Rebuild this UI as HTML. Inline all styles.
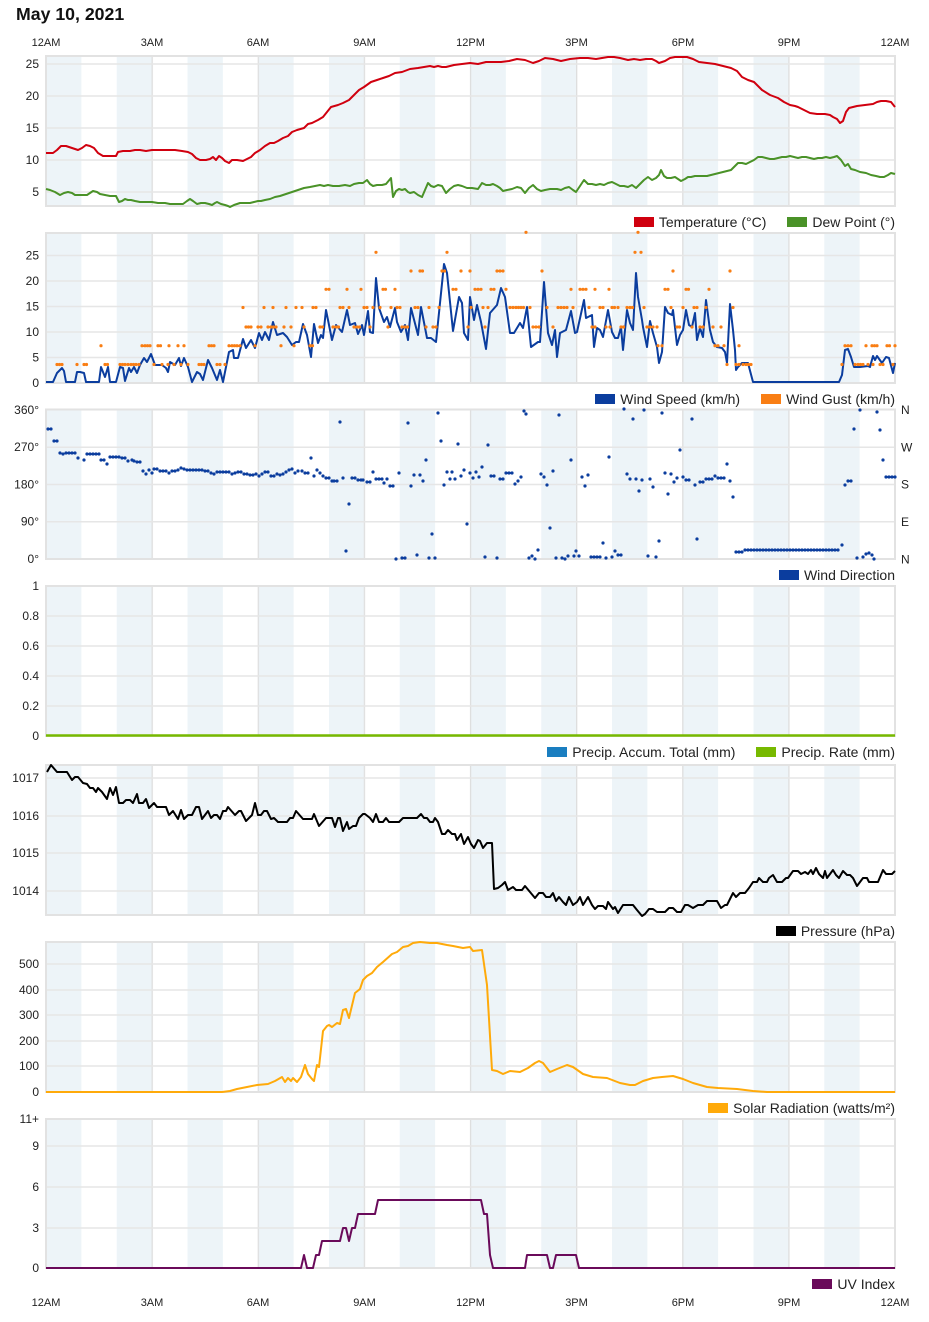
<!DOCTYPE html>
<html><head><meta charset="utf-8">
<style>
html,body{margin:0;padding:0;background:#fff;}
body{width:929px;height:1322px;position:relative;overflow:hidden;font-family:"Liberation Sans",Arial,sans-serif;}
svg{position:absolute;left:0;top:0;}
.lg{position:absolute;right:34px;height:16px;line-height:16px;display:flex;align-items:center;font-size:14px;color:#222;white-space:nowrap;}
.lg .it{display:flex;align-items:center;margin-left:21px;}
.lg .sw{width:20px;height:10px;margin-right:5px;display:inline-block;}
</style></head><body>
<svg width="929" height="1322" viewBox="0 0 929 1322" xmlns="http://www.w3.org/2000/svg" font-family="Liberation Sans, Arial, sans-serif">
<defs>
<pattern id="bands" patternUnits="userSpaceOnUse" x="46" y="0" width="70.75" height="1322">
<rect x="0" y="0" width="35.375" height="1322" fill="#edf4f8"/>
</pattern>
<pattern id="vg" patternUnits="userSpaceOnUse" x="45.4" y="0" width="106.125" height="1322">
<rect x="0" y="0" width="1.3" height="1322" fill="#dedede"/>
</pattern>
</defs>
<text x="16" y="20" font-size="17.7" font-weight="bold" fill="#111">May 10, 2021</text>
<g font-size="11" fill="#222" text-anchor="middle">
<text x="46" y="46">12AM</text><text x="152" y="46">3AM</text><text x="258" y="46">6AM</text><text x="364.5" y="46">9AM</text><text x="470.5" y="46">12PM</text><text x="576.5" y="46">3PM</text><text x="683" y="46">6PM</text><text x="789" y="46">9PM</text><text x="895" y="46">12AM</text>
<text x="46" y="1306">12AM</text><text x="152" y="1306">3AM</text><text x="258" y="1306">6AM</text><text x="364.5" y="1306">9AM</text><text x="470.5" y="1306">12PM</text><text x="576.5" y="1306">3PM</text><text x="683" y="1306">6PM</text><text x="789" y="1306">9PM</text><text x="895" y="1306">12AM</text>
</g>

<g>
<rect x="46" y="56" width="849" height="150" fill="url(#bands)"/><rect x="46" y="56" width="849" height="150" fill="url(#vg)"/>
<rect x="46" y="233" width="849" height="150" fill="url(#bands)"/><rect x="46" y="233" width="849" height="150" fill="url(#vg)"/>
<rect x="46" y="409.5" width="849" height="149.5" fill="url(#bands)"/><rect x="46" y="409.5" width="849" height="149.5" fill="url(#vg)"/>
<rect x="46" y="586" width="849" height="150" fill="url(#bands)"/><rect x="46" y="586" width="849" height="150" fill="url(#vg)"/>
<rect x="46" y="765" width="849" height="150" fill="url(#bands)"/><rect x="46" y="765" width="849" height="150" fill="url(#vg)"/>
<rect x="46" y="942" width="849" height="150" fill="url(#bands)"/><rect x="46" y="942" width="849" height="150" fill="url(#vg)"/>
<rect x="46" y="1119" width="849" height="149" fill="url(#bands)"/><rect x="46" y="1119" width="849" height="149" fill="url(#vg)"/>
</g>
<g stroke="#e6e6e6" stroke-width="1.5">
<line x1="46" x2="895" y1="64" y2="64"/><line x1="46" x2="895" y1="96" y2="96"/><line x1="46" x2="895" y1="128" y2="128"/><line x1="46" x2="895" y1="160" y2="160"/><line x1="46" x2="895" y1="192" y2="192"/>
<line x1="46" x2="895" y1="255.5" y2="255.5"/><line x1="46" x2="895" y1="281" y2="281"/><line x1="46" x2="895" y1="306.5" y2="306.5"/><line x1="46" x2="895" y1="332" y2="332"/><line x1="46" x2="895" y1="357.5" y2="357.5"/>
<line x1="46" x2="895" y1="447.25" y2="447.25"/><line x1="46" x2="895" y1="484.5" y2="484.5"/><line x1="46" x2="895" y1="521.75" y2="521.75"/>
<line x1="46" x2="895" y1="616" y2="616"/><line x1="46" x2="895" y1="646" y2="646"/><line x1="46" x2="895" y1="676" y2="676"/><line x1="46" x2="895" y1="706" y2="706"/>
<line x1="46" x2="895" y1="778" y2="778"/><line x1="46" x2="895" y1="816" y2="816"/><line x1="46" x2="895" y1="853" y2="853"/><line x1="46" x2="895" y1="891" y2="891"/>
<line x1="46" x2="895" y1="964" y2="964"/><line x1="46" x2="895" y1="990" y2="990"/><line x1="46" x2="895" y1="1015" y2="1015"/><line x1="46" x2="895" y1="1041" y2="1041"/><line x1="46" x2="895" y1="1066" y2="1066"/>
<line x1="46" x2="895" y1="1146" y2="1146"/><line x1="46" x2="895" y1="1187" y2="1187"/><line x1="46" x2="895" y1="1228" y2="1228"/>
</g>
<g fill="none" stroke="#e2e2e2" stroke-width="2">
<rect x="46" y="56" width="849" height="150"/>
<rect x="46" y="233" width="849" height="150"/>
<rect x="46" y="409.5" width="849" height="149.5"/>
<rect x="46" y="586" width="849" height="150"/>
<rect x="46" y="765" width="849" height="150"/>
<rect x="46" y="942" width="849" height="150"/>
<rect x="46" y="1119" width="849" height="149"/>
</g>

<g font-size="12" fill="#222" text-anchor="end">
<text x="39" y="68">25</text><text x="39" y="100">20</text><text x="39" y="132">15</text><text x="39" y="164">10</text><text x="39" y="196">5</text>
<text x="39" y="259.5">25</text><text x="39" y="285">20</text><text x="39" y="310.5">15</text><text x="39" y="336">10</text><text x="39" y="361.5">5</text><text x="39" y="387">0</text>
<text x="39" y="414">360°</text><text x="39" y="451">270°</text><text x="39" y="488.5">180°</text><text x="39" y="525.5">90°</text><text x="39" y="563">0°</text>
<text x="39" y="590">1</text><text x="39" y="620">0.8</text><text x="39" y="650">0.6</text><text x="39" y="680">0.4</text><text x="39" y="710">0.2</text><text x="39" y="740">0</text>
<text x="39" y="782">1017</text><text x="39" y="820">1016</text><text x="39" y="857">1015</text><text x="39" y="895">1014</text>
<text x="39" y="968">500</text><text x="39" y="994">400</text><text x="39" y="1019">300</text><text x="39" y="1045">200</text><text x="39" y="1070">100</text><text x="39" y="1096">0</text>
<text x="39" y="1123">11+</text><text x="39" y="1150">9</text><text x="39" y="1191">6</text><text x="39" y="1232">3</text><text x="39" y="1272">0</text>
</g>
<g font-size="12" fill="#222">
<text x="901" y="414">N</text><text x="901" y="451.5">W</text><text x="901" y="488.5">S</text><text x="901" y="526">E</text><text x="901" y="563.5">N</text>
</g>

<polyline fill="none" stroke="#d0000f" stroke-width="2" stroke-linejoin="round" points="46,153 53,153 57,150 61,146 66,146 72,148 78,150 82,148 86,145 90,146 94,148 98,153 103,156 110,156 116,156 118,152 123,151 130,151 135,150 140,150 146,151 152,150 160,150 168,150 175,150 182,151 188,152 192,154 196,158 200,160 206,160 210,159 213,157 216,160 219,156 222,158 225,161 229,163 232,160 237,160 243,161 247,159 251,157 255,153 260,150 265,146 270,143 274,143 278,141 283,138 288,136 292,132 297,130 304,128 308,124 312,123 318,120 323,117 327,112 331,107 338,105 343,103 349,100 353,96 359,90 364,87 371,82 377,80 383,78 389,76 395,73 402,72 410,69 418,68 424,67 430,66 434,67 438,66 442,67 446,67 450,66 454,65 462,64 470,63 478,64 482,63 486,62 494,62 501,62 509,61 517,59 525,60 533,63 539,61 545,58 553,59 561,61 570,59 580,58 588,58 596,59 602,58 608,57 614,57 620,58 628,60 634,59 640,60 646,59 652,59 656,61 659,63 665,61 670,58 675,57 681,57 687,57 693,59 699,62 707,63 715,64 723,66 731,68 737,71 742,77 748,80 754,82 758,86 762,90 770,95 778,98 784,102 790,105 795,106 798,107 804,110 810,113 817,114 825,114 830,115 833,117 837,119 840,123 843,121 846,112 849,108 853,107 857,106 865,105 873,104 877,102 881,101 886,101 891,102 895,107"/>
<polyline fill="none" stroke="#4a9228" stroke-width="2" stroke-linejoin="round" points="46,189 50,190 55,192 60,195 64,193 68,192 72,193 75,195 81,195 87,195 90,193 93,191 97,192 100,194 105,195 110,196 116,196 119,202 122,201 125,199 128,200 131,200 135,201 140,202 147,202 152,202 158,203 165,203 170,204 177,204 183,204 187,201 190,199 193,201 197,204 201,203 205,203 209,204 212,205 215,203 217,202 221,204 225,205 228,206 230,207 234,205 237,204 240,203 245,203 250,203 254,202 258,201 261,201 265,200 270,199 275,197 280,196 286,194 292,192 298,190 304,188 310,187 315,186 320,185 324,186 328,185 333,186 339,186 345,185 350,186 354,184 359,183 363,183 367,180 370,184 373,186 377,185 382,185 386,184 391,178 393,197 396,191 399,189 402,190 405,189 408,192 410,193 414,192 418,195 422,197 425,190 428,183 431,186 434,187 438,185 442,186 446,193 450,189 454,186 458,185 462,186 467,188 472,188 478,189 482,183 486,185 490,185 493,184 497,186 500,188 503,191 507,190 512,189 517,187 521,188 525,193 529,188 533,185 537,189 541,191 545,190 550,189 557,189 561,190 565,188 569,187 573,190 576,192 580,186 584,180 588,184 592,184 596,185 600,184 604,185 608,183 612,182 616,184 620,186 624,186 628,187 632,185 636,188 640,184 644,180 648,177 652,180 656,178 659,175 661,170 664,176 667,178 671,178 675,177 678,179 681,181 685,179 688,177 691,177 695,176 699,176 703,176 707,176 711,175 715,174 719,173 723,172 727,171 731,170 734,167 738,163 742,163 746,164 750,162 754,160 758,157 762,157 766,158 770,159 774,159 778,158 782,157 786,157 790,156 794,157 798,158 802,157 806,157 810,158 814,159 818,158 822,158 826,157 830,158 834,157 837,156 841,160 845,166 848,164 851,169 855,170 860,172 866,173 871,175 876,176 880,177 884,177 888,175 891,173 895,174"/>

<polyline fill="none" stroke="#0b3d9e" stroke-width="2" stroke-linejoin="round" points="46,382 53,382 57,373 62,368 64,371 66,382 75,382 77,372 80,372 84,373 86,382 99,382 101,367 105,377 108,367 110,382 116,382 120,367 123,368 125,381 129,368 131,372 134,367 137,373 140,365 144,358 147,362 151,354 155,365 162,365 166,368 168,372 170,362 175,365 179,358 181,366 184,358 188,367 192,382 197,372 200,374 203,380 208,360 212,368 217,380 220,370 223,382 229,352 233,350 234,358 238,358 243,339 246,348 251,340 255,348 259,333 262,340 265,332 269,340 273,322 277,335 283,333 287,337 292,345 296,342 299,342 303,324 307,335 311,357 314,324 318,343 321,335 323,338 326,310 332,340 336,325 342,332 347,310 350,325 355,323 358,334 362,325 364,335 368,311 370,332 373,333 376,278 379,308 384,322 387,317 390,327 395,308 397,322 401,332 405,325 408,340 411,308 418,335 421,307 427,338 431,338 436,342 444,264 447,273 453,331 459,297 462,303 464,333 468,340 470,297 474,320 477,305 481,322 486,349 490,313 497,305 501,288 505,297 510,333 514,333 520,323 523,328 527,307 531,347 538,342 540,342 544,282 548,333 552,345 555,330 557,357 560,333 566,330 571,311 575,333 577,332 584,300 586,318 592,315 594,347 597,328 600,330 603,337 608,310 612,332 615,338 618,338 621,327 623,350 627,310 630,323 633,330 636,273 638,297 642,320 643,327 647,347 650,321 653,333 657,347 659,363 662,352 665,307 668,313 672,315 673,310 677,345 680,335 683,330 686,310 689,325 692,327 695,313 697,340 700,328 703,337 706,300 710,330 713,342 717,347 722,348 725,352 727,363 730,304 733,330 735,350 736,370 738,367 742,363 748,363 753,382 839,382 842,375 845,350 848,349 851,357 854,367 860,367 868,366 870,367 873,356 875,360 877,356 882,363 886,357 889,358 893,373 895,363"/>
<path fill="none" stroke="#f97e14" stroke-width="3.2" stroke-linecap="round" d="M57 364.5h0M59.5 364.5h0M62 364.5h0M77 364.5h0M84 364.5h0M86.5 364.5h0M105 364.5h0M107.5 364.5h0M120 364.5h0M122.5 364.5h0M125 364.5h0M128 364.5h0M131 364.5h0M133.5 364.5h0M136 364.5h0M139 364.5h0M154 364.5h0M162 364.5h0M168 364.5h0M174 364.5h0M181 364.5h0M188 364.5h0M199 364.5h0M201.5 364.5h0M204 364.5h0M217 364.5h0M220 364.5h0M225 364.5h0M727 364.5h0M736 364.5h0M739 364.5h0M743 364.5h0M746 364.5h0M748.5 364.5h0M751 364.5h0M842 364.5h0M855 364.5h0M858 364.5h0M860.5 364.5h0M863 364.5h0M868 364.5h0M873 364.5h0M880 364.5h0M883 364.5h0M893 364.5h0
M101 345.7h0M142 345.7h0M145 345.7h0M147.5 345.7h0M150 345.7h0M158 345.7h0M160.5 345.7h0M169 345.7h0M178 345.7h0M184 345.7h0M209 345.7h0M211.5 345.7h0M214 345.7h0M229 345.7h0M232 345.7h0M234.5 345.7h0M237 345.7h0M240 345.7h0M255 345.7h0M281 345.7h0M294 345.7h0M310 345.7h0M312.5 345.7h0M658 345.7h0M662 345.7h0M715 345.7h0M718 345.7h0M724 345.7h0M739 345.7h0M845 345.7h0M848 345.7h0M851 345.7h0M866 345.7h0M872 345.7h0M874.5 345.7h0M877 345.7h0M887 345.7h0M889.5 345.7h0M895 345.7h0
M246 327h0M248.5 327h0M251 327h0M258 327h0M261 327h0M268 327h0M271 327h0M273.5 327h0M276 327h0M284 327h0M291 327h0M304 327h0M320 327h0M322.5 327h0M333 327h0M336 327h0M338.5 327h0M354 327h0M357 327h0M359.5 327h0M370 327h0M388 327h0M402 327h0M405 327h0M407.5 327h0M426 327h0M433 327h0M436 327h0M468 327h0M485 327h0M533 327h0M536 327h0M539 327h0M553 327h0M592 327h0M595 327h0M606 327h0M610 327h0M621 327h0M623.5 327h0M647 327h0M650 327h0M653 327h0M657 327h0M677 327h0M679.5 327h0M692 327h0M700 327h0M703 327h0M713 327h0M721 327h0
M243 307.5h0M264 307.5h0M273 307.5h0M286 307.5h0M296 307.5h0M302 307.5h0M313 307.5h0M316 307.5h0M340 307.5h0M343 307.5h0M349 307.5h0M364 307.5h0M367 307.5h0M373 307.5h0M380 307.5h0M391 307.5h0M397 307.5h0M400 307.5h0M415 307.5h0M418 307.5h0M429 307.5h0M439 307.5h0M471 307.5h0M483 307.5h0M488 307.5h0M510 307.5h0M513 307.5h0M516 307.5h0M518.5 307.5h0M521 307.5h0M523.5 307.5h0M530 307.5h0M547 307.5h0M558 307.5h0M561 307.5h0M564 307.5h0M567 307.5h0M573 307.5h0M589 307.5h0M600 307.5h0M603 307.5h0M612 307.5h0M614.5 307.5h0M618 307.5h0M627 307.5h0M630 307.5h0M632.5 307.5h0M644 307.5h0M671 307.5h0M683 307.5h0M694 307.5h0M697 307.5h0M706 307.5h0M733 307.5h0
M326 289.3h0M329 289.3h0M347 289.3h0M361 289.3h0M383 289.3h0M385.5 289.3h0M395 289.3h0M453 289.3h0M456 289.3h0M475 289.3h0M478 289.3h0M481 289.3h0M491 289.3h0M494 289.3h0M506 289.3h0M571 289.3h0M580 289.3h0M583 289.3h0M586 289.3h0M595 289.3h0M609 289.3h0M665 289.3h0M668 289.3h0M686 289.3h0M688.5 289.3h0M709 289.3h0
M411 271h0M420 271h0M422.5 271h0M442 271h0M444.5 271h0M461 271h0M470 271h0M497 271h0M500 271h0M503 271h0M542 271h0M673 271h0M730 271h0
M376 252.3h0M447 252.3h0M635 252.3h0M641 252.3h0M526 232.3h0M638 232.3h0"/>

<path fill="none" stroke="#0b3d9e" stroke-width="3.2" stroke-linecap="round" d="M48 429h0M51 429h0M54 441h0M57 441h0M60 453h0M63 454h0M66 453h0M69 453h0M72 453h0M75 453h0M78 458h0M84 460h0M87 454h0M90 454h0M93 454h0M96 454h0M99 454h0M101 460h0M104 460h0M107 464h0M110 457h0M113 457h0M116 457h0M119 457h0M122 458h0M125 458h0M128 461h0M132 460h0M134 461h0M137 462h0M140 462h0M143 471h0M146 474h0M149 470h0M152 473h0M154 469h0M157 469h0M160 471h0M163 471h0M166 471h0M169 473h0M172 471h0M175 471h0M178 470h0M181 468h0M184 469h0M187 470h0M190 470h0M193 470h0M196 470h0M199 470h0M202 470h0M205 471h0M208 471h0M211 473h0M214 474h0M217 472h0M220 472h0M223 472h0M226 472h0M229 472h0M232 474h0M235 473h0M238 472h0M241 472h0M244 474h0M247 474h0M250 475h0M253 475h0M256 474h0M259 476h0M262 474h0M265 472h0M268 472h0M271 476h0M274 476h0M277 474h0M280 475h0M283 474h0M286 472h0M289 470h0M292 469h0M295 473h0M298 471h0
M302 471h0M305 473h0M308 473h0M311 458h0M314 476h0M317 470h0M320 473h0M323 476h0M326 478h0M329 478h0M332 481h0M334 481h0M337 481h0M340 422h0M343 478h0M346 551h0M349 504h0M352 478h0M355 478h0M358 480h0M361 480h0M363 480h0M367 482h0M370 482h0M373 472h0M376 479h0M379 479h0M382 479h0M384 483h0M387 479h0M390 486h0M393 486h0M396 559h0M399 473h0M402 558h0M405 558h0M408 423h0M411 486h0M414 475h0M417 555h0M420 475h0M423 481h0M426 460h0M429 558h0M432 534h0M435 558h0M438 413h0M441 441h0M444 485h0M447 472h0M450 479h0M452 472h0M455 479h0M458 444h0M461 476h0M464 470h0M467 524h0M470 473h0M473 478h0M476 472h0M479 477h0M482 467h0M485 557h0M488 445h0M491 476h0M494 476h0M497 558h0M500 479h0M503 479h0M506 473h0M509 473h0M512 473h0M515 484h0M518 481h0M521 477h0M524 411h0M526 414h0M529 558h0M532 556h0M535 559h0M538 550h0M541 474h0M544 477h0M547 485h0M550 528h0M553 471h0M556 558h0M559 415h0M562 558h0M565 559h0M568 556h0M571 460h0M574 556h0M576 551h0M579 556h0M582 477h0M585 486h0M588 475h0M591 557h0M594 557h0M597 557h0M600 557h0M603 543h0M606 558h0M609 457h0M612 557h0M615 551h0M618 555h0M621 555h0M624 409h0M627 474h0M630 479h0M633 419h0M636 479h0M639 491h0M642 480h0M644 410h0M648 556h0M650 479h0M653 487h0M656 557h0M659 541h0M662 413h0M665 473h0M668 494h0M671 474h0M674 482h0M677 478h0M680 450h0M683 477h0M686 480h0M689 480h0M692 419h0M695 485h0M697 539h0M700 482h0M703 482h0M706 479h0M709 479h0M712 479h0M715 476h0M718 478h0M721 478h0M724 478h0M727 464h0M730 481h0M733 497h0M736 552h0M739 552h0M742 552h0
M745 550h0M748 550h0M751 550h0M754 550h0M757 550h0M760 550h0M763 550h0M766 550h0M769 550h0M772 550h0M775 550h0M778 550h0M781 550h0M784 550h0M787 550h0M790 550h0M793 550h0M796 550h0M799 550h0M802 550h0M805 550h0M808 550h0M811 550h0M814 550h0M817 550h0M820 550h0M823 550h0M826 550h0M829 550h0M832 550h0M835 550h0M838 550h0
M842 545h0M845 485h0M848 481h0M851 481h0M854 429h0M857 558h0M860 410h0M863 557h0M866 554h0M869 553h0M872 555h0M874 559h0M877 412h0M880 430h0M883 460h0M886 477h0M889 477h0M892 477h0M895 477h0"/>

<line x1="46" x2="895" y1="735.5" y2="735.5" stroke="#77b900" stroke-width="2.5"/>

<polyline fill="none" stroke="#000" stroke-width="2" stroke-linejoin="round" points="47,772 51,765 57,772 67,772 72,780 75,777 78,777 83,783 87,784 90,788 93,788 96,792 98,788 102,792 107,799 110,788 113,795 116,787 119,803 123,803 126,800 130,800 133,803 137,794 139,803 143,803 146,799 149,808 154,803 157,807 166,807 169,815 173,811 178,819 181,810 184,819 188,815 192,815 196,807 199,807 202,819 208,811 211,818 214,815 217,815 220,819 223,811 226,811 228,807 235,815 239,811 241,811 246,821 252,815 255,803 258,815 261,815 264,811 267,811 271,819 274,818 278,822 287,822 290,818 293,818 296,811 303,819 312,819 314,814 319,826 326,818 332,818 335,827 338,818 340,818 343,831 347,822 349,829 353,826 356,826 359,818 363,814 365,814 370,818 373,822 376,814 379,822 383,822 386,818 389,822 399,822 403,818 417,818 421,814 424,818 427,818 430,822 433,822 435,818 438,822 442,834 445,834 448,830 452,834 455,834 457,840 461,834 464,844 468,837 471,844 474,848 478,840 480,841 483,848 487,843 492,843 494,889 498,888 502,885 505,882 508,890 513,887 516,890 522,890 525,886 530,892 535,898 539,893 543,893 546,897 550,897 553,893 556,901 559,897 563,902 566,905 569,897 573,905 577,902 580,897 583,905 588,897 592,905 595,909 598,906 603,906 606,909 608,902 613,909 615,907 618,913 623,905 633,905 637,910 642,916 645,914 649,909 653,909 657,912 660,912 665,912 669,908 673,908 677,912 681,912 685,905 688,905 693,908 698,905 703,905 707,901 717,901 721,908 725,905 727,905 731,897 733,893 736,897 740,893 745,893 749,888 753,882 757,882 759,878 763,882 767,882 769,878 773,875 777,882 782,882 786,878 788,878 793,871 798,871 801,874 805,872 808,874 811,870 813,874 816,868 819,874 823,878 825,871 827,878 830,874 833,870 836,875 839,878 843,871 847,875 850,875 853,878 857,886 860,882 863,878 867,878 869,882 878,882 883,870 886,874 892,874 895,871"/>

<polyline fill="none" stroke="#ffaa0a" stroke-width="2" stroke-linejoin="round" points="46,1092 222,1092 230,1091 237,1089 247,1087 257,1085 268,1084 275,1081 282,1077 285,1082 288,1078 291,1081 293,1078 297,1082 301,1077 305,1065 308,1074 312,1079 314,1081 317,1065 319,1067 323,1031 327,1026 329,1025 332,1027 337,1023 340,1024 343,1010 346,1009 349,1018 355,993 360,989 363,980 367,976 372,973 377,967 383,962 392,954 397,952 403,947 408,946 413,943 420,942 430,943 437,943 447,945 453,946 463,948 470,947 473,951 482,950 487,985 492,1070 497,1071 503,1074 510,1071 520,1072 528,1068 535,1063 539,1061 543,1063 550,1072 557,1069 567,1065 573,1067 583,1074 593,1077 607,1078 620,1083 630,1085 635,1085 643,1081 653,1078 662,1077 673,1076 683,1079 693,1083 707,1087 718,1088 737,1089 753,1091 767,1092 895,1092"/>

<polyline fill="none" stroke="#6a0a5a" stroke-width="2" stroke-linejoin="round" points="46,1268 301,1268 304,1255 307,1268 313,1268 316,1255 319,1255 322,1241 340,1241 343,1228 346,1228 349,1241 352,1228 355,1228 358,1214 375,1214 378,1200 481,1200 484,1214 487,1214 490,1255 493,1268 525,1268 527,1255 547,1255 550,1268 553,1268 556,1255 576,1255 579,1268 895,1268"/>
</svg>

<div class="lg" style="top:214px"><span class="it"><span class="sw" style="background:#d0000f"></span>Temperature (°C)</span><span class="it"><span class="sw" style="background:#4a9228"></span>Dew Point (°)</span></div>
<div class="lg" style="top:391px"><span class="it"><span class="sw" style="background:#0b3d9e"></span>Wind Speed (km/h)</span><span class="it"><span class="sw" style="background:#f97e14"></span>Wind Gust (km/h)</span></div>
<div class="lg" style="top:567px"><span class="it"><span class="sw" style="background:#0b3d9e"></span>Wind Direction</span></div>
<div class="lg" style="top:744px"><span class="it"><span class="sw" style="background:#1a7ec0"></span>Precip. Accum. Total (mm)</span><span class="it"><span class="sw" style="background:#77b900"></span>Precip. Rate (mm)</span></div>
<div class="lg" style="top:923px"><span class="it"><span class="sw" style="background:#000"></span>Pressure (hPa)</span></div>
<div class="lg" style="top:1100px"><span class="it"><span class="sw" style="background:#ffaa0a"></span>Solar Radiation (watts/m²)</span></div>
<div class="lg" style="top:1276px"><span class="it"><span class="sw" style="background:#6a0a5a"></span>UV Index</span></div>
</body></html>
